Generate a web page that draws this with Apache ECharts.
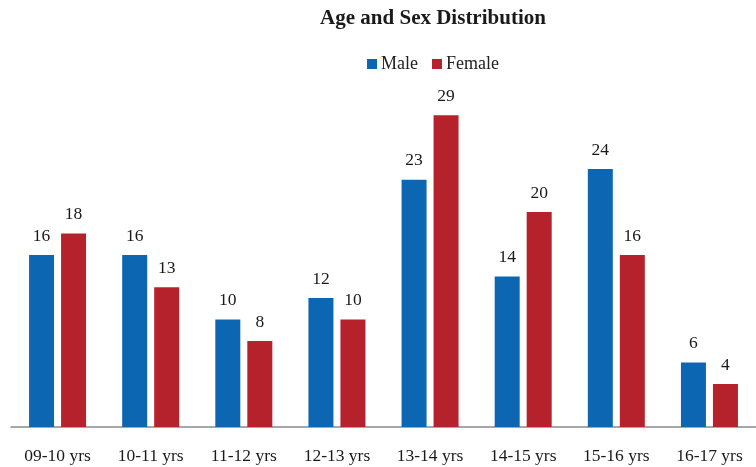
<!DOCTYPE html>
<html><head><meta charset="utf-8">
<script src="https://cdn.jsdelivr.net/npm/echarts@6/dist/echarts.min.js"></script>
<style>html,body{margin:0;padding:0;background:#fff}#c{width:756px;height:467px}</style>
</head><body><div id="c"></div>
<script>
const categories = ['09-10 yrs','10-11 yrs','11-12 yrs','12-13 yrs','13-14 yrs','14-15 yrs','15-16 yrs','16-17 yrs'];
const maleValues = [16,16,10,12,23,14,24,6];
const femaleValues = [18,13,8,10,29,20,16,4];
const seriesNames = ['Male','Female'];

const FONT = '"Liberation Serif", "DejaVu Serif", serif';
const chart = echarts.init(document.getElementById('c'));
chart.setOption({
  animation:false,
  title:{text:'Age and Sex Distribution',left:428,textAlign:'center',top:3,
    textStyle:{fontFamily:FONT,fontSize:21,fontWeight:'bold',color:'#1a1a1a'}},
  legend:{data:seriesNames,top:50,left:362,itemWidth:10,itemHeight:10,itemGap:14,icon:'rect',
    textStyle:{fontFamily:FONT,fontSize:18,color:'#222',padding:[0,0,0,-1]}},
  grid:{left:11,top:104.5,width:755.5,bottom:40,containLabel:false},
  xAxis:{type:'category',data:categories,
    axisLine:{show:true,lineStyle:{color:'#8a8a8a',width:1.5}},
    axisTick:{show:false},
    axisLabel:{fontFamily:FONT,fontSize:17.5,color:'#1a1a1a',margin:20}},
  yAxis:{type:'value',min:0,max:30,show:false,splitLine:{show:false}},
  series:[
    {name:seriesNames[0],type:'bar',data:maleValues,barWidth:25,barGap:'28%',
     itemStyle:{color:'#0d66b2'},
     label:{show:true,position:'top',distance:10,fontFamily:FONT,fontSize:17.5,color:'#1a1a1a'}},
    {name:seriesNames[1],type:'bar',data:femaleValues,barWidth:25,
     itemStyle:{color:'#b5222b'},
     label:{show:true,position:'top',distance:10,fontFamily:FONT,fontSize:17.5,color:'#1a1a1a'}}
  ]
});
</script></body></html>
